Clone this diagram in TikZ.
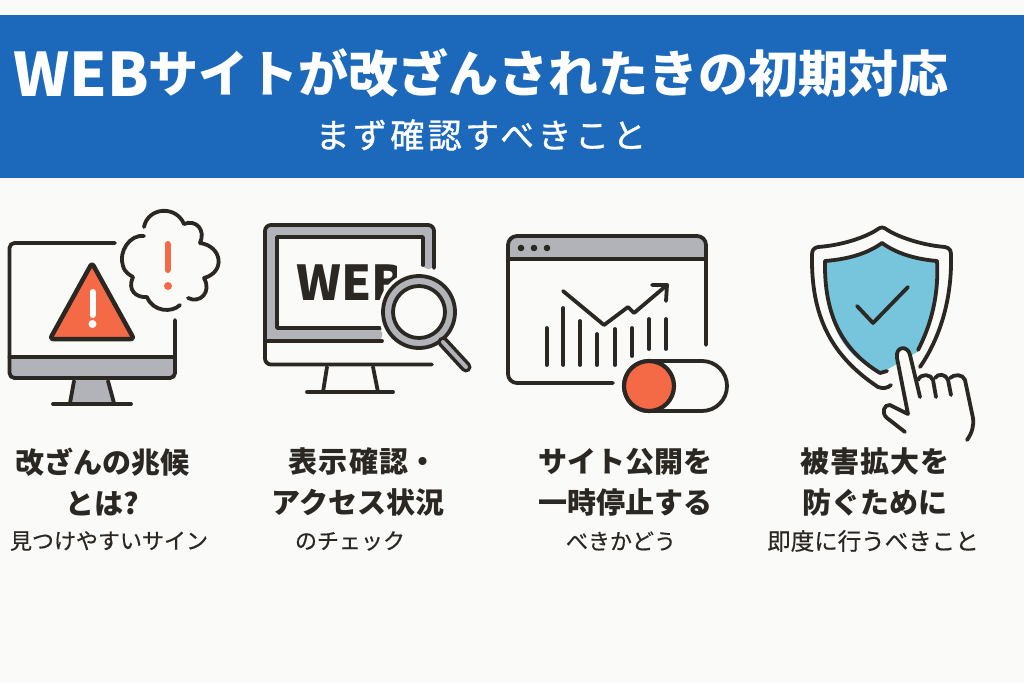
\documentclass[tikz,border=0pt]{standalone}
\usepackage{fontspec}
\setmainfont{Noto Sans CJK JP}
\newfontfamily\midjp[FakeBold=0.5]{Noto Sans CJK JP}
\newfontfamily\subjp[FakeBold=1]{Noto Sans CJK JP}
\definecolor{headblue}{HTML}{1C69BC}
\definecolor{paper}{HTML}{FAFAF8}
\definecolor{ink}{HTML}{2B2722}
\definecolor{signred}{HTML}{F46A47}
\definecolor{panelgray}{HTML}{B1B3B8}
\definecolor{shieldblue}{HTML}{77C5DC}
\tikzset{
  icon/.style={draw=ink,line width=3.8pt,line cap=round,line join=round},
  caption/.style={text=ink,align=center,font=\bfseries\fontsize{29}{41}\selectfont,inner sep=0pt},
  subcaption/.style={text=ink,font=\midjp\fontsize{22}{24}\selectfont,inner sep=0pt},
}
\begin{document}
\begin{tikzpicture}[x=1pt,y=-1pt]
\useasboundingbox (0,0) rectangle (1024,683);
% Background and header
\fill[paper] (0,0) rectangle (1024,683);
\fill[headblue] (0,15) rectangle (1024,178);
\node[text=white,anchor=base west,inner sep=0pt,font=\bfseries\fontsize{50}{50}\selectfont] (title) at (13,92) {\raisebox{-4pt}{\fontsize{60}{60}\selectfont WEB}サイトが改ざんされたきの初期対応};
\node[text=white,inner sep=0pt,font=\subjp\fontsize{34}{34}\selectfont\addfontfeature{LetterSpace=10}] (subtitle) at (481,135) {まず確認すべきこと};
% First monitor
\fill[panelgray] (10,357) rectangle (175,377);
\fill[panelgray] (74,380) -- (108,380) -- (114,403) -- (70,403) -- cycle;
\draw[icon,rounded corners=5pt] (115,243) -- (9.500,243) -- (9.500,378) -- (175,378) -- (175,320);
\draw[icon] (9.500,357) -- (175,357);
\draw[icon] (74,381) -- (70,403);
\draw[icon] (108,381) -- (114,403);
\draw[icon] (53,404) -- (131,404);
% Warning triangle
\draw[icon,fill=signred,line width=4.500pt,rounded corners=3pt] (92,263) -- (134,339) -- (50,339) -- cycle;
\draw[white,line width=6pt,line cap=round] (92.500,292) -- (92.500,315);
\fill[white] (92.500,324) circle (4);
% Cloud
\draw[icon] (144,236) .. controls (130,234) and (118,252) .. (123,266) .. controls (125,273) and (130,275) .. (133,277) .. controls (127,290) and (136,298) .. (147,297) .. controls (153,312) and (172,313) .. (180,305);
\draw[icon] (144,227) .. controls (148,207) and (176,205) .. (184,224) .. controls (196,219) and (206,230) .. (200,243) .. controls (222,246) and (226,272) .. (204,278) .. controls (212,292) and (200,304) .. (188,298);
\draw[signred,line width=6pt,line cap=round] (167.500,244) -- (167.500,270);
\fill[signred] (168,286) circle (4);
% Second monitor
\fill[panelgray,rounded corners=5pt] (265,225) -- (434,225) -- (434,269) -- (423,269) -- (423,237) -- (277,237) -- (277,328) -- (382,328) -- (382,341) -- (265,341) -- cycle;
\draw[icon,rounded corners=6pt] (434,268) -- (434,225) -- (265,225) -- (265,364.500) -- (432,364.500);
\draw[icon] (423,265) -- (423,237) -- (277,237) -- (277,328) -- (380,328);
\draw[icon] (265,341) -- (382,341);
\draw[icon] (327,367) -- (323,392);
\draw[icon] (373,367) -- (378,392);
\draw[icon] (307,392) -- (393,392);
\node[text=ink,inner sep=0pt,anchor=base west,font=\bfseries\fontsize{48}{48}\selectfont] (webtext) at (296,300) {WEB};
\fill[paper] (397,255) rectangle (421,300);
% Magnifier
\fill[paper] (419,312) circle (41);
\draw[icon,fill=panelgray] (419,312) circle (36);
\draw[icon,fill=paper] (419,312) circle (26);
\draw[ink,line width=11pt,line cap=round] (443,342) -- (466,367);
\draw[panelgray,line width=4pt,line cap=round] (443,342) -- (466,367);
% Browser window
\fill[panelgray,rounded corners=6pt] (508,236) -- (706,236) -- (706,259) -- (508,259) -- cycle;
\draw[icon,rounded corners=9pt] (613,383) -- (508,383) -- (508,236) -- (706,236) -- (706,345);
\draw[icon] (508,259) -- (706,259);
\foreach \dotx in {521,534,547} \fill[ink] (\dotx,248) circle (3.300);
% Bar chart
\foreach \barx/\bary/\barb in {546.700/328/365,563.300/308/365,580/321/365,597/334/365,615/329/365,632/328/356,649/319/349,666/319/349}
  \draw[icon] (\barx,\bary) -- (\barx,\barb);
\draw[icon] (563,291) -- (604,325) -- (628,307) -- (634,313) -- (667,285);
\draw[icon] (652,285) -- (667,285) -- (666,301);
% Toggle
\draw[icon,fill=paper,rounded corners=25pt] (624,361) rectangle (727,411);
\draw[icon,fill=signred,line width=4.200pt] (649,386) circle (25);
% Shield
\fill[shieldblue] (825,261) .. controls (850,259) and (868,253) .. (882,243) .. controls (896,253) and (914,259) .. (937,261) .. controls (939,295) and (930,325) .. (917,352) -- (890,368) -- (880,373) .. controls (850,358) and (824,335) .. (825,261) -- cycle;
\draw[icon] (825,261) .. controls (850,259) and (868,253) .. (882,243) .. controls (896,253) and (914,259) .. (937,261) .. controls (939,295) and (931,325) .. (918,350);
\draw[icon] (825,261) .. controls (824,315) and (842,350) .. (880,373) -- (887,371);
\draw[icon] (818,247) .. controls (845,245) and (868,236) .. (878,229) .. controls (881,227) and (883,227) .. (886,229) .. controls (896,236) and (920,245) .. (945,247) .. controls (950,248) and (951,251) .. (951,255) .. controls (952,295) and (942,335) .. (920,367);
\draw[icon] (818,247) .. controls (813,248) and (812,251) .. (812,255) .. controls (811,315) and (830,355) .. (878,387) .. controls (883,389) and (888,388) .. (891,385);
\draw[icon] (857,306) -- (873,323) -- (908,287);
% Hand
\fill[paper] (908,414) -- (897,358) .. controls (895,346) and (908,345) .. (910,355) -- (918,380) -- (965,378) -- (973,418) -- (967,440) -- (905,432) -- (883,412) -- (890,405) -- cycle;
\draw[icon] (905,432) -- (887,418) .. controls (881,413) and (884,404) .. (890,405) -- (908,414) -- (897,358) .. controls (895,346) and (908,345) .. (910,355) -- (920,397);
\draw[icon] (918,380) .. controls (921,373) and (931,374) .. (933,380) -- (936,397);
\draw[icon] (935,378) .. controls (938,373) and (946,374) .. (948,380) -- (951,395);
\draw[icon] (950,378) .. controls (954,374) and (963,374) .. (965,380) -- (973,418) .. controls (974,426) and (972,433) .. (967,440);
% Captions
\node[caption] (signtitle) at (102,482) {改ざんの兆候\\とは?};
\node[subcaption] (signsub) at (109,541) {見つけやすいサイン};
\node[caption] (viewtitle) at (358,482) {\hspace*{10pt}{\addfontfeature{LetterSpace=5}表示確認}・\\アクセス状況};
\node[subcaption] (viewsub) at (350,541) {のチェック};
\node[caption] (stoptitle) at (625,482) {サイト公開を\\一時停止する};
\node[subcaption] (stopsub) at (621,541) {べきかどう};
\node[caption] (damagetitle) at (875,482) {{\addfontfeature{LetterSpace=4}被害拡大を}\\防ぐために};
\node[subcaption,font=\midjp\fontsize{23.5}{24}\selectfont] (damagesub) at (873,541) {即度に行うべきこと};
\end{tikzpicture}
\end{document}
